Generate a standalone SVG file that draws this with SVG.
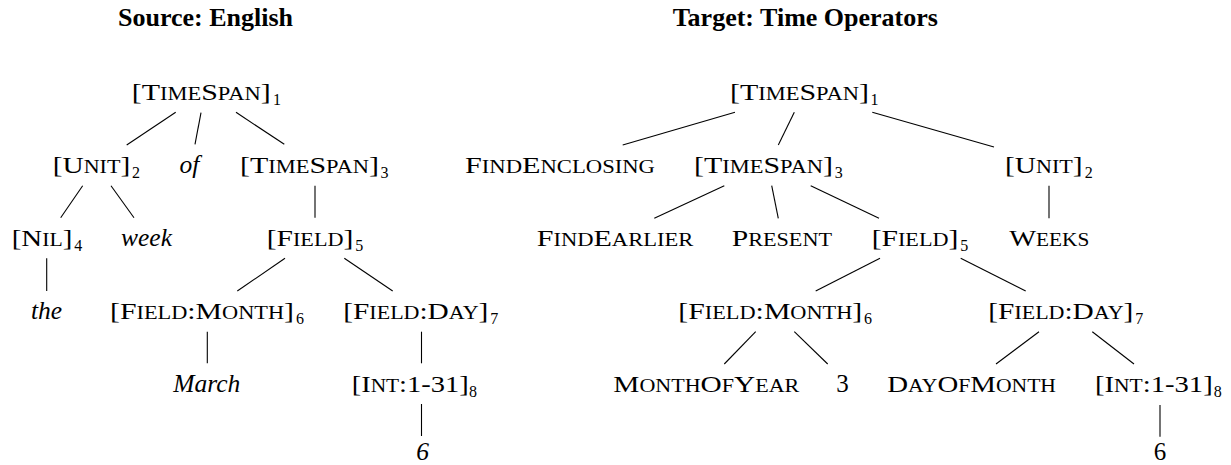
<svg xmlns="http://www.w3.org/2000/svg" width="1231" height="465" viewBox="0 0 1231 465">
<style>
text{font-family:"Liberation Serif","Times New Roman",serif;fill:#000}
.n{font-size:24px}
.sc{font-size:18px}
.it{font-size:25.5px;font-style:italic;text-anchor:middle}
.up{font-size:25px;text-anchor:middle}
.sub{font-size:16px;text-anchor:end}
.title{font-size:26px;font-weight:bold;text-anchor:middle}
.edges line{stroke:#000;stroke-width:1.1}
</style>
<rect width="1231" height="465" fill="#fff"/>
<g id="titles">
<text class="title" x="205.5" y="26">Source: English</text>
<text class="title" x="805.3" y="26">Target: Time Operators</text>
</g>
<g class="edges" id="connectors">
<line x1="175.7" y1="112.3" x2="126.7" y2="145"/>
<line x1="201" y1="112.7" x2="195" y2="144.3"/>
<line x1="236" y1="112.3" x2="284.3" y2="144.3"/>
<line x1="82.7" y1="185.7" x2="60.7" y2="217.7"/>
<line x1="111" y1="185.7" x2="134" y2="217.7"/>
<line x1="315" y1="185.7" x2="315" y2="217.7"/>
<line x1="46.7" y1="258.3" x2="46.7" y2="291"/>
<line x1="285" y1="258.3" x2="237.3" y2="291"/>
<line x1="344.3" y1="258.3" x2="392.7" y2="291"/>
<line x1="207.3" y1="331.7" x2="207.3" y2="363.3"/>
<line x1="421.5" y1="331.7" x2="421.5" y2="363.3"/>
<line x1="421.5" y1="404" x2="421.5" y2="436"/>
<line x1="735" y1="112.3" x2="622.7" y2="145"/>
<line x1="794.3" y1="112.3" x2="778.3" y2="145"/>
<line x1="872.3" y1="112.3" x2="994" y2="147"/>
<line x1="724.3" y1="185.7" x2="654.3" y2="218.3"/>
<line x1="771.7" y1="185.7" x2="778.3" y2="218.3"/>
<line x1="810.7" y1="185.7" x2="879" y2="218.3"/>
<line x1="1049" y1="185.7" x2="1049" y2="218.3"/>
<line x1="880" y1="258.3" x2="815.7" y2="291"/>
<line x1="960.7" y1="258.3" x2="1025.7" y2="291"/>
<line x1="755.7" y1="331.7" x2="724.3" y2="364"/>
<line x1="794.3" y1="331.7" x2="827.7" y2="364"/>
<line x1="1039" y1="331.7" x2="996" y2="364"/>
<line x1="1092.3" y1="331.7" x2="1134" y2="364"/>
<line x1="1160" y1="405" x2="1160" y2="436.7"/>
</g>
<g id="l-timespan1"><text class="n" x="131.7" y="100" textLength="139" lengthAdjust="spacingAndGlyphs">[T<tspan class="sc">IME</tspan>S<tspan class="sc">PAN</tspan>]</text><text class="sub" x="281" y="104.5">1</text></g>
<g id="l-unit2"><text class="n" x="52.7" y="173" textLength="77.5" lengthAdjust="spacingAndGlyphs">[U<tspan class="sc">NIT</tspan>]</text><text class="sub" x="140" y="177.5">2</text></g>
<g id="l-of"><text class="it" x="189.5" y="173">of</text></g>
<g id="l-timespan3"><text class="n" x="240" y="173" textLength="139" lengthAdjust="spacingAndGlyphs">[T<tspan class="sc">IME</tspan>S<tspan class="sc">PAN</tspan>]</text><text class="sub" x="388.5" y="177.5">3</text></g>
<g id="l-nil4"><text class="n" x="11.7" y="246" textLength="60.6" lengthAdjust="spacingAndGlyphs">[N<tspan class="sc">IL</tspan>]</text><text class="sub" x="82.3" y="250.5">4</text></g>
<g id="l-week"><text class="it" x="146.5" y="246">week</text></g>
<g id="l-field5"><text class="n" x="266.7" y="246" textLength="86.6" lengthAdjust="spacingAndGlyphs">[F<tspan class="sc">IELD</tspan>]</text><text class="sub" x="363.3" y="250.5">5</text></g>
<g id="l-the"><text class="it" x="46.5" y="319">the</text></g>
<g id="l-fieldmonth6"><text class="n" x="110" y="319" textLength="184" lengthAdjust="spacingAndGlyphs">[F<tspan class="sc">IELD</tspan>:M<tspan class="sc">ONTH</tspan>]</text><text class="sub" x="304" y="323.5">6</text></g>
<g id="l-fieldday7"><text class="n" x="343.3" y="319" textLength="145" lengthAdjust="spacingAndGlyphs">[F<tspan class="sc">IELD</tspan>:D<tspan class="sc">AY</tspan>]</text><text class="sub" x="498.3" y="323.5">7</text></g>
<g id="l-march"><text class="it" x="206.7" y="392">March</text></g>
<g id="l-int8"><text class="n" x="351.7" y="392" textLength="117" lengthAdjust="spacingAndGlyphs">[I<tspan class="sc">NT</tspan>:1-31]</text><text class="sub" x="477" y="396.5">8</text></g>
<g id="l-6"><text class="it" x="422.5" y="459.5">6</text></g>
<g id="r-timespan1"><text class="n" x="730" y="100" textLength="139" lengthAdjust="spacingAndGlyphs">[T<tspan class="sc">IME</tspan>S<tspan class="sc">PAN</tspan>]</text><text class="sub" x="878.5" y="104.5">1</text></g>
<g id="r-findenclosing"><text class="n" x="465" y="173" textLength="190" lengthAdjust="spacingAndGlyphs">F<tspan class="sc">IND</tspan>E<tspan class="sc">NCLOSING</tspan></text></g>
<g id="r-timespan3"><text class="n" x="694" y="173" textLength="139" lengthAdjust="spacingAndGlyphs">[T<tspan class="sc">IME</tspan>S<tspan class="sc">PAN</tspan>]</text><text class="sub" x="842.7" y="177.5">3</text></g>
<g id="r-unit2"><text class="n" x="1005" y="173" textLength="77.5" lengthAdjust="spacingAndGlyphs">[U<tspan class="sc">NIT</tspan>]</text><text class="sub" x="1092.7" y="177.5">2</text></g>
<g id="r-findearlier"><text class="n" x="536.7" y="246" textLength="156.6" lengthAdjust="spacingAndGlyphs">F<tspan class="sc">IND</tspan>E<tspan class="sc">ARLIER</tspan></text></g>
<g id="r-present"><text class="n" x="731.7" y="246" textLength="100.3" lengthAdjust="spacingAndGlyphs">P<tspan class="sc">RESENT</tspan></text></g>
<g id="r-field5"><text class="n" x="871.7" y="246" textLength="86.6" lengthAdjust="spacingAndGlyphs">[F<tspan class="sc">IELD</tspan>]</text><text class="sub" x="968.3" y="250.5">5</text></g>
<g id="r-weeks"><text class="n" x="1009.3" y="246" textLength="80" lengthAdjust="spacingAndGlyphs">W<tspan class="sc">EEKS</tspan></text></g>
<g id="r-fieldmonth6"><text class="n" x="678.3" y="319" textLength="184" lengthAdjust="spacingAndGlyphs">[F<tspan class="sc">IELD</tspan>:M<tspan class="sc">ONTH</tspan>]</text><text class="sub" x="872" y="323.5">6</text></g>
<g id="r-fieldday7"><text class="n" x="988.3" y="319" textLength="145" lengthAdjust="spacingAndGlyphs">[F<tspan class="sc">IELD</tspan>:D<tspan class="sc">AY</tspan>]</text><text class="sub" x="1143.3" y="323.5">7</text></g>
<g id="r-monthofyear"><text class="n" x="613.3" y="392" textLength="186" lengthAdjust="spacingAndGlyphs">M<tspan class="sc">ONTH</tspan>O<tspan class="sc">F</tspan>Y<tspan class="sc">EAR</tspan></text></g>
<g id="r-3"><text class="up" x="842.5" y="392">3</text></g>
<g id="r-dayofmonth"><text class="n" x="887.3" y="392" textLength="168.7" lengthAdjust="spacingAndGlyphs">D<tspan class="sc">AY</tspan>O<tspan class="sc">F</tspan>M<tspan class="sc">ONTH</tspan></text></g>
<g id="r-int8"><text class="n" x="1095" y="392" textLength="117.7" lengthAdjust="spacingAndGlyphs">[I<tspan class="sc">NT</tspan>:1-31]</text><text class="sub" x="1221.7" y="396.5">8</text></g>
<g id="r-6"><text class="up" x="1160" y="459.5">6</text></g>
</svg>
